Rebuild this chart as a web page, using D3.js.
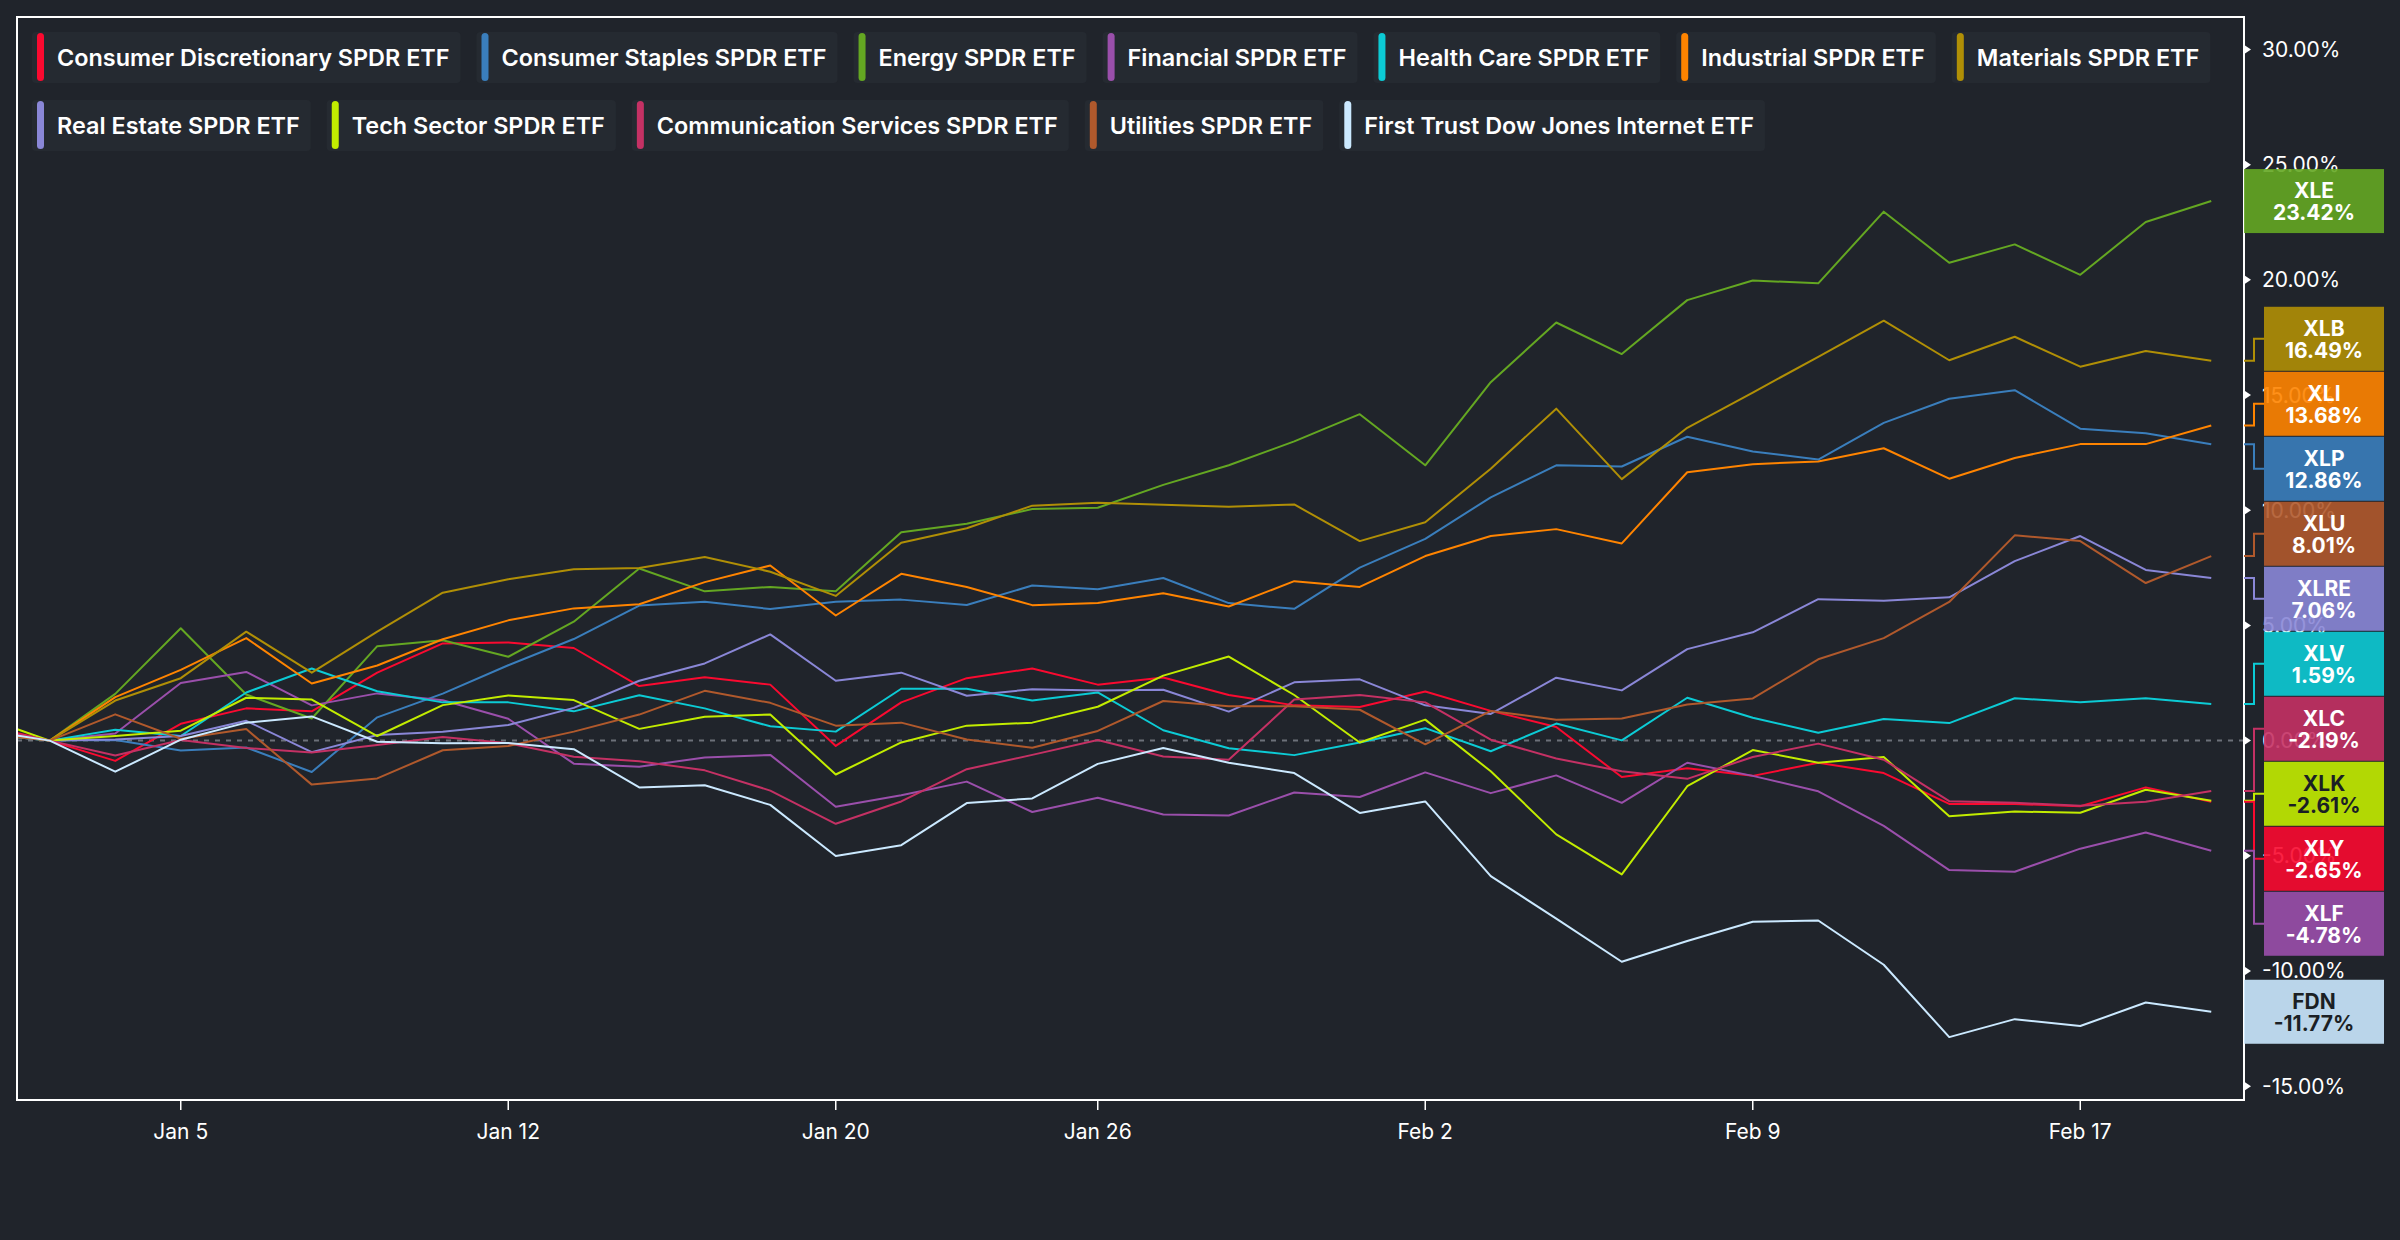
<!DOCTYPE html>
<html>
<head>
<meta charset="utf-8">
<script src="https://cdn.jsdelivr.net/npm/d3@7"></script>
<style>
  html, body { margin: 0; padding: 0; background: #20242b; }
  svg { display: block; font-family: Inter, "Open Sans", sans-serif; }
</style>
</head>
<body>
<svg id="chart"></svg>
<script>
// trading days, Dec 31 is the base day (0%)
const dates = ["2025-12-30","2025-12-31","2026-01-02","2026-01-05","2026-01-06","2026-01-07","2026-01-08","2026-01-09",
  "2026-01-12","2026-01-13","2026-01-14","2026-01-15","2026-01-16","2026-01-20","2026-01-21","2026-01-22","2026-01-23",
  "2026-01-26","2026-01-27","2026-01-28","2026-01-29","2026-01-30","2026-02-02","2026-02-03","2026-02-04","2026-02-05",
  "2026-02-06","2026-02-09","2026-02-10","2026-02-11","2026-02-12","2026-02-13","2026-02-17","2026-02-18","2026-02-19"];

const tickers = ["XLY","XLP","XLE","XLF","XLV","XLI","XLB","XLRE","XLK","XLC","XLU","FDN"];
const names = ["Consumer Discretionary SPDR ETF","Consumer Staples SPDR ETF","Energy SPDR ETF","Financial SPDR ETF",
  "Health Care SPDR ETF","Industrial SPDR ETF","Materials SPDR ETF","Real Estate SPDR ETF","Tech Sector SPDR ETF",
  "Communication Services SPDR ETF","Utilities SPDR ETF","First Trust Dow Jones Internet ETF"];
const colors = ["#fa0a30","#3a7ebc","#64a722","#9a4fab","#0ccbd5","#ff8400","#b08f06","#8a87d7","#c2ec00","#c43164","#b0592c","#cbe9ff"];
const darkText = ["XLK","FDN"];

// % change series
const XLY = [0.65,0,-0.88,0.73,1.4,1.27,2.95,4.22,4.26,4.02,2.37,2.75,2.43,-0.23,1.66,2.71,3.13,2.43,2.74,1.98,1.53,1.46,2.13,1.29,0.59,-1.58,-1.2,-1.53,-0.96,-1.41,-2.75,-2.75,-2.85,-2.03,-2.65];
const XLP = [0.3,0,0.03,-0.43,-0.3,-1.36,1.01,2.04,3.27,4.41,5.86,6.03,5.71,6.03,6.12,5.89,6.73,6.57,7.06,5.97,5.72,7.51,8.76,10.56,11.95,11.9,13.19,12.55,12.2,13.79,14.84,15.21,13.54,13.34,12.86];
const XLE = [0.35,0,2.03,4.88,2.0,0.96,4.1,4.36,3.64,5.16,7.47,6.48,6.67,6.48,9.04,9.41,10.05,10.11,11.1,11.95,12.99,14.17,11.95,15.56,18.15,16.78,19.12,19.97,19.85,22.96,20.74,21.54,20.22,22.51,23.42];
const XLF = [0.45,0,0.31,2.5,2.98,1.53,2.05,1.75,0.95,-1.0,-1.13,-0.73,-0.62,-2.87,-2.37,-1.78,-3.1,-2.48,-3.21,-3.25,-2.25,-2.45,-1.38,-2.28,-1.51,-2.7,-0.96,-1.53,-2.2,-3.7,-5.62,-5.69,-4.69,-3.99,-4.78];
const XLV = [0.3,0,0.47,0.2,2.09,3.13,2.14,1.66,1.66,1.27,1.97,1.4,0.62,0.39,2.25,2.25,1.74,2.09,0.45,-0.33,-0.63,-0.08,0.54,-0.46,0.74,0.01,1.86,0.99,0.34,0.94,0.76,1.84,1.66,1.84,1.59];
const XLI = [0.4,0,1.89,3.07,4.45,2.48,3.26,4.4,5.22,5.74,5.92,6.88,7.6,5.43,7.24,6.67,5.88,5.97,6.4,5.82,6.92,6.67,8.01,8.88,9.18,8.56,11.65,12.0,12.12,12.69,11.37,12.27,12.87,12.87,13.68];
const XLB = [0.35,0,1.74,2.71,4.73,2.95,4.73,6.42,7.0,7.44,7.49,7.97,7.33,6.28,8.59,9.22,10.2,10.33,10.24,10.15,10.25,8.66,9.48,11.8,14.41,11.35,13.58,15.11,16.66,18.23,16.51,17.53,16.23,16.91,16.49];
const XLRE = [0.4,0,0.05,0.2,0.86,-0.5,0.24,0.38,0.68,1.42,2.6,3.35,4.61,2.6,2.95,1.95,2.23,2.17,2.21,1.26,2.53,2.66,1.53,1.16,2.73,2.18,3.97,4.7,6.14,6.07,6.22,7.79,8.88,7.41,7.06];
const XLK = [1.0,0,0.2,0.43,1.86,1.78,0.2,1.54,1.96,1.76,0.51,1.04,1.13,-1.47,-0.08,0.65,0.78,1.47,2.82,3.65,1.98,-0.08,0.91,-1.33,-4.07,-5.81,-1.98,-0.41,-0.96,-0.71,-3.28,-3.08,-3.13,-2.13,-2.61];
const XLC = [0.6,0,-0.65,0.03,-0.32,-0.52,-0.19,0.16,-0.11,-0.7,-0.9,-1.29,-2.17,-3.61,-2.64,-1.24,-0.62,0.03,-0.69,-0.83,1.78,1.98,1.66,0.04,-0.78,-1.33,-1.66,-0.71,-0.13,-0.83,-2.63,-2.7,-2.83,-2.65,-2.19];
const XLU = [0.3,0,1.14,0.08,0.5,-1.91,-1.64,-0.42,-0.23,0.39,1.13,2.16,1.64,0.65,0.78,0.05,-0.31,0.42,1.72,1.49,1.49,1.34,-0.16,1.29,0.91,0.96,1.57,1.83,3.53,4.45,6.02,8.91,8.66,6.84,8.01];
const FDN = [0.45,0,-1.35,0.04,0.78,1.05,-0.05,-0.11,-0.1,-0.37,-2.03,-1.94,-2.79,-5.01,-4.54,-2.71,-2.51,-1.01,-0.32,-0.96,-1.41,-3.14,-2.64,-5.88,-7.73,-9.6,-8.7,-7.86,-7.81,-9.73,-12.87,-12.09,-12.39,-11.37,-11.77];
const values = [XLY, XLP, XLE, XLF, XLV, XLI, XLB, XLRE, XLK, XLC, XLU, FDN];

const yTicks = [-15, -10, -5, 0, 5, 10, 15, 20, 25, 30];

const W = 2400, H = 1240;
const L = 17, T = 17, R = 2244, B = 1100;

const svg = d3.select("#chart").attr("width", W).attr("height", H);
svg.append("rect").attr("width", W).attr("height", H).attr("fill", "#20242b");

const parse = d3.timeParse("%Y-%m-%d");
const days = dates.map(parse);

const x = d3.scaleLinear().domain([0.5, dates.length - 0.5]).range([L, R]);
const y = d3.scaleLinear().domain([-15.6, 31.41]).range([B, T]);

svg.append("clipPath").attr("id", "plotclip")
  .append("rect").attr("x", L).attr("y", T).attr("width", R - L).attr("height", B - T);

const plot = svg.append("g").attr("clip-path", "url(#plotclip)");

// zero line
plot.append("line")
  .attr("x1", L).attr("x2", R).attr("y1", y(0)).attr("y2", y(0))
  .attr("stroke", "#6c7079").attr("stroke-width", 2).attr("stroke-dasharray", "5,6");

const line = d3.line().x((d, i) => x(i)).y(d => y(d));
plot.selectAll("path.series")
  .data(values)
  .join("path")
  .attr("class", "series")
  .attr("d", line)
  .attr("fill", "none")
  .attr("stroke", (d, i) => colors[i])
  .attr("stroke-width", 2)
  .attr("stroke-linejoin", "round");

// frame
svg.append("rect")
  .attr("x", L).attr("y", T).attr("width", R - L).attr("height", B - T)
  .attr("fill", "none").attr("stroke", "#ffffff").attr("stroke-width", 2);

// legend, flows left to right and wraps
const legend = svg.append("g");
let lx = 37, row = 0;
const rowY = r => 57 + r * 68;
names.forEach((n, i) => {
  const g = legend.append("g");
  const bg = g.append("rect").attr("fill", "#252a31").attr("rx", 4);
  const txt = g.append("text")
    .attr("font-size", 23.4).attr("font-weight", 600).attr("fill", "#ffffff")
    .attr("dominant-baseline", "central")
    .text(n);
  const tw = txt.node().getComputedTextLength();
  const w = 20 + tw;
  if (lx + w > 2225 && lx > 37) { lx = 37; row++; }
  const cy = rowY(row);
  txt.attr("x", lx + 20).attr("y", cy);
  bg.attr("x", lx - 5).attr("y", cy - 25).attr("width", w + 16).attr("height", 51);
  g.append("rect")
    .attr("x", lx).attr("y", cy - 24).attr("width", 7).attr("height", 48).attr("rx", 3.5)
    .attr("fill", colors[i]);
  lx += w + 32;
});

// x axis: first trading day of each week
const xTicks = d3.range(1, dates.length)
  .filter(i => +d3.timeMonday.floor(days[i]) !== +d3.timeMonday.floor(days[i - 1]))
  .filter(i => x(i) >= L && x(i) <= R);
const fmt = d3.timeFormat("%b %-d");
const xa = svg.append("g");
xa.selectAll("line").data(xTicks).join("line")
  .attr("x1", d => x(d)).attr("x2", d => x(d)).attr("y1", B + 1).attr("y2", B + 10)
  .attr("stroke", "#ffffff").attr("stroke-width", 1.5);
xa.selectAll("text").data(xTicks).join("text")
  .attr("x", d => x(d)).attr("y", B + 31)
  .attr("text-anchor", "middle").attr("dominant-baseline", "central")
  .attr("font-size", 21).attr("fill", "#ffffff")
  .text(d => fmt(days[d]));

// y axis on the right
const ya = svg.append("g");
ya.selectAll("path").data(yTicks).join("path")
  .attr("d", d => `M${R + 1},${y(d) - 4}L${R + 7},${y(d)}L${R + 1},${y(d) + 4}Z`)
  .attr("fill", "#ffffff");
ya.selectAll("text").data(yTicks).join("text")
  .attr("x", R + 18).attr("y", d => y(d))
  .attr("dominant-baseline", "central")
  .attr("font-size", 21).attr("fill", "#ffffff")
  .text(d => d.toFixed(2) + "%");

// last value labels, overlapping ones stacked around their mean
const slot = 65, boxH = 64;
const lastVals = tickers.map((t, i) => {
  const v = values[i][values[i].length - 1];
  return { t, i, v, ty: y(v) };
}).sort((a, b) => a.ty - b.ty);

let clusters = lastVals.map(d => ({ items: [d], c: d.ty }));
let merged = true;
while (merged) {
  merged = false;
  for (let k = 0; k < clusters.length - 1; k++) {
    const a = clusters[k], b = clusters[k + 1];
    if (a.c + a.items.length * slot / 2 > b.c - b.items.length * slot / 2) {
      const items = a.items.concat(b.items);
      clusters.splice(k, 2, { items, c: d3.mean(items, d => d.ty) });
      merged = true;
      break;
    }
  }
}

const labels = svg.append("g");
clusters.forEach(cl => {
  const n = cl.items.length;
  const top = cl.c - n * slot / 2;
  cl.items.forEach((d, j) => {
    const cy = top + slot * (j + 0.5);
    const shifted = n > 1;
    const bx = shifted ? R + 20 : R;
    const bw = 2384 - bx;
    if (shifted) {
      labels.append("path")
        .attr("d", `M${R},${d.ty}H${R + 10}V${cy}H${R + 20}`)
        .attr("fill", "none").attr("stroke", colors[d.i]).attr("stroke-width", 2);
    }
    labels.append("rect")
      .attr("x", bx).attr("y", cy - boxH / 2).attr("width", bw).attr("height", boxH)
      .attr("fill", colors[d.i]).attr("fill-opacity", 0.9);
    const tc = darkText.includes(d.t) ? "#1b1f24" : "#ffffff";
    labels.append("text")
      .attr("x", bx + bw / 2).attr("y", cy - 10.5)
      .attr("text-anchor", "middle").attr("dominant-baseline", "central")
      .attr("font-size", 21).attr("font-weight", 700).attr("fill", tc)
      .text(d.t);
    labels.append("text")
      .attr("x", bx + bw / 2).attr("y", cy + 11.5)
      .attr("text-anchor", "middle").attr("dominant-baseline", "central")
      .attr("font-size", 21).attr("font-weight", 700).attr("fill", tc)
      .text(d.v.toFixed(2) + "%");
  });
});
</script>
</body>
</html>
